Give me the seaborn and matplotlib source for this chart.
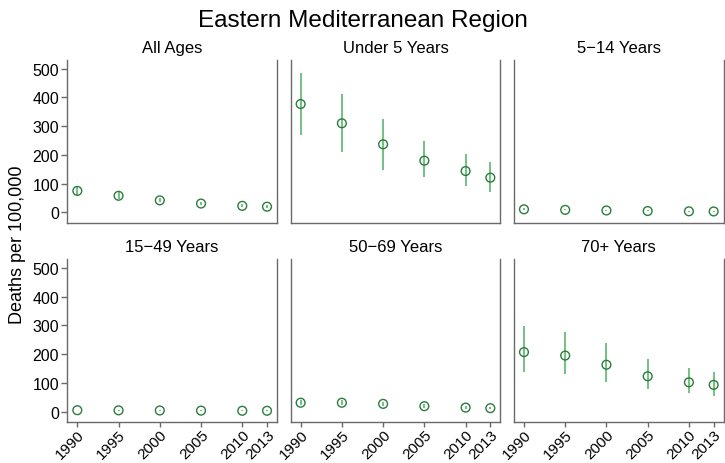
import numpy as np
import pandas as pd
import seaborn as sns
from matplotlib import pyplot as plt

# data
years = [1990, 1995, 2000, 2005, 2010, 2013]
age_groups = ["All Ages", "Under 5 Years", "5\u221214 Years",
              "15\u221249 Years", "50\u221269 Years", "70+ Years"]

rate_all = [75, 58, 42, 31, 23, 20]
lo_all = [62, 48, 35, 25, 18, 15]
hi_all = [90, 70, 51, 38, 29, 26]

rate_u5 = [377, 310, 237, 180, 144, 121]
lo_u5 = [268, 211, 148, 125, 92, 72]
hi_u5 = [485, 413, 325, 247, 202, 176]

rate_5_14 = [11, 9, 7, 5, 4, 3.5]
lo_5_14 = [8, 7, 5, 4, 3, 2.5]
hi_5_14 = [14, 12, 9, 7, 5, 4.5]

rate_15_49 = [5, 4.5, 4, 3.5, 3, 3]
lo_15_49 = [4, 3.5, 3, 2.5, 2, 2]
hi_15_49 = [6, 5.5, 5, 4.5, 4, 4]

rate_50_69 = [31, 31, 27, 19, 14, 12]
lo_50_69 = [24, 24, 20, 14, 10, 8]
hi_50_69 = [39, 39, 34, 25, 19, 16]

rate_70 = [207, 195, 163, 123, 102, 93]
lo_70 = [139, 132, 103, 77, 66, 56]
hi_70 = [297, 278, 238, 183, 152, 137]

rates = [rate_all, rate_u5, rate_5_14, rate_15_49, rate_50_69, rate_70]
lows = [lo_all, lo_u5, lo_5_14, lo_15_49, lo_50_69, lo_70]
highs = [hi_all, hi_u5, hi_5_14, hi_15_49, hi_50_69, hi_70]

# build long dataframe
rows = []
for grp, r, lo, hi in zip(age_groups, rates, lows, highs):
    for yr, v, l, h in zip(years, r, lo, hi):
        rows.append({"age": grp, "year": yr, "rate": v, "lo": l, "hi": h})
df = pd.DataFrame(rows)

sns.set_style("white")
plt.rcParams["font.family"] = ["Liberation Sans", "DejaVu Sans"]
plt.rcParams["text.color"] = "black"
plt.rcParams["axes.labelcolor"] = "black"


def draw_points(data, **kwargs):
    ax = plt.gca()
    ax.vlines(data["year"], data["lo"], data["hi"], color="#4caf64", lw=1.1)
    sns.scatterplot(data=data, x="year", y="rate", ax=ax, s=40,
                    marker="o", facecolor="none", edgecolor="#2a7d3a",
                    linewidth=1.0, zorder=3)


g = sns.FacetGrid(df, col="age", col_wrap=3, col_order=age_groups,
                  sharex=True, sharey=True, height=2, aspect=1.2)
g.map_dataframe(draw_points)

g.set_titles("{col_name}", size=12, color="black")
g.set(xlim=(1988.8, 2014.2), ylim=(-35, 530),
      xticks=years, yticks=[0, 100, 200, 300, 400, 500])
g.set_xlabels("")
g.set_ylabels("")

for ax in g.axes.flat:
    for side in ["left", "bottom", "right"]:
        ax.spines[side].set_visible(True)
        ax.spines[side].set_color("#6a6a6a")
        ax.spines[side].set_linewidth(1.0)
    ax.spines["top"].set_visible(False)
    ax.tick_params(axis="both", which="both", length=4, width=1,
                   color="#6a6a6a", labelcolor="black", labelsize=11.5,
                   direction="out")
    ax.tick_params(axis="x", bottom=True, pad=0.5, labelsize=11, length=3.5)
    ax.tick_params(axis="y", left=True, pad=2)
    for lbl in ax.get_xticklabels():
        lbl.set_rotation(45)
        lbl.set_ha("right")
        lbl.set_rotation_mode("anchor")

for i, ax in enumerate(g.axes.flat):
    if i < 3:
        ax.tick_params(axis="x", bottom=False, labelbottom=False)
    if i % 3 != 0:
        ax.tick_params(axis="y", left=False, labelleft=False)

g.figure.set_size_inches(7.25, 4.64)
g.figure.subplots_adjust(left=0.093, right=0.998, top=0.8685, bottom=0.089,
                         wspace=0.066, hspace=0.2256)
g.figure.suptitle("Eastern Mediterranean Region", fontsize=17.5, y=0.978)
g.figure.text(0.012, 0.472, "Deaths per 100,000", rotation=90,
              va="center", ha="left", fontsize=13)

g.figure.savefig("out.png", dpi=100)
